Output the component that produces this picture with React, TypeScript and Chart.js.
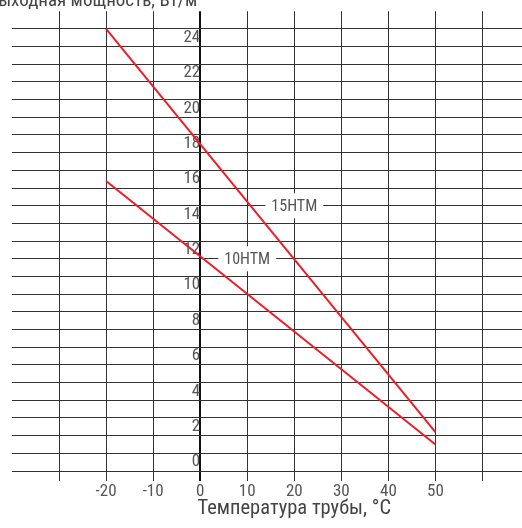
import React, { useEffect, useRef } from 'react';
import { Chart, registerables } from 'chart.js';

Chart.register(...registerables);

// ---- data ----
const temperatures = [-20, 50];
const power15HTM = [25, 2.2];
const power10HTM = [16.4, 1.5];

const xTickValues = [-40, -30, -20, -10, 0, 10, 20, 30, 40, 50, 60];
const xTickLabels = ['', '', '-20', '-10', '0', '10', '20', '30', '40', '50', ''];
const yTickValues = [0, 1, 2, 3, 4, 5, 6, 7, 8, 9, 10, 11, 12, 13, 14, 15, 16, 17, 18, 19, 20, 21, 22, 23, 24, 25, 26];
const yTickLabels = ['0', '', '2', '', '4', '', '6', '', '8', '', '10', '', '12', '', '14', '', '16', '', '18', '', '20', '', '22', '', '24', '', ''];

const curveLabelNames = ['15HTM', '10HTM'];
const curveLabelX = [20, 10];
const curveLabelY = [15, 12];

const yTitle = 'Выходная мощность, Вт/м';
const xTitle = 'Температура трубы, °С';

const FONT = "'Liberation Sans Narrow', 'Roboto Condensed', 'DejaVu Sans Condensed', Roboto, 'Liberation Sans', sans-serif";

const annotate = {
  id: 'annotate',
  beforeDatasetsDraw(chart: any) {
    const { ctx, scales } = chart;
    const x = scales.x;
    const y = scales.y;
    ctx.save();
    ctx.font = `16px ${FONT}`;
    ctx.textAlign = 'center';
    ctx.textBaseline = 'middle';
    curveLabelNames.forEach((name, i) => {
      const px = x.getPixelForValue(curveLabelX[i]);
      const py = y.getPixelForValue(curveLabelY[i]);
      const w = ctx.measureText(name).width + 12;
      ctx.fillStyle = '#ffffff';
      ctx.fillRect(px - w / 2, py - 12.5, w, 25);
      ctx.fillStyle = '#555555';
      ctx.fillText(name, px, py + 1);
    });
    ctx.restore();
  },
  afterDraw(chart: any) {
    const { ctx, scales, chartArea } = chart;
    const x = scales.x;
    ctx.save();
    ctx.fillStyle = '#444444';
    ctx.textBaseline = 'alphabetic';
    ctx.font = `19px ${FONT}`;
    ctx.textAlign = 'right';
    ctx.fillText(yTitle, x.getPixelForValue(0) - 3, chartArea.top - 5);
    ctx.font = `20.5px ${FONT}`;
    ctx.textAlign = 'center';
    ctx.fillText(xTitle, x.getPixelForValue(20), chartArea.bottom + 43);
    ctx.restore();
  },
};

export default function App() {
  const canvasRef = useRef<HTMLCanvasElement | null>(null);

  useEffect(() => {
    if (!canvasRef.current) return;
    const red = '#ee1c25';
    const chart = new Chart(canvasRef.current, {
      type: 'scatter',
      data: {
        datasets: [
          {
            label: '15HTM',
            data: temperatures.map((t, i) => ({ x: t, y: power15HTM[i] })),
            showLine: true,
            borderColor: red,
            backgroundColor: red,
            borderWidth: 2,
            pointRadius: 0,
          },
          {
            label: '10HTM',
            data: temperatures.map((t, i) => ({ x: t, y: power10HTM[i] })),
            showLine: true,
            borderColor: red,
            backgroundColor: red,
            borderWidth: 2,
            pointRadius: 0,
          },
        ],
      },
      options: {
        animation: false,
        responsive: false,
        layout: { padding: { left: 12, right: 0, top: 0, bottom: 24.6 } },
        plugins: {
          legend: { display: false },
          tooltip: { enabled: false },
          title: { display: false },
        },
        scales: {
          x: {
            type: 'linear',
            min: -40,
            max: 68.4,
            afterBuildTicks: (scale: any) => {
              scale.ticks = xTickValues.map((value) => ({ value }));
            },
            border: { display: false },
            grid: {
              color: (c: any) => {
                const v = c.tick?.value;
                if (v === -40) return 'rgba(0,0,0,0)';
                if (v === 0) return '#111111';
                return '#333333';
              },
              lineWidth: (c: any) => (c.tick?.value === 0 ? 2 : 1),
              drawTicks: true,
              tickLength: 10,
            },
            ticks: {
              padding: 1,
              maxRotation: 0,
              autoSkip: false,
              color: '#555555',
              font: { family: FONT, size: 17 },
              callback: (value: any) => xTickLabels[xTickValues.indexOf(Number(value))],
            },
          },
          y: {
            type: 'linear',
            min: 0,
            max: 26,
            position: { x: 0 } as any,
            afterBuildTicks: (scale: any) => {
              scale.ticks = yTickValues.map((value) => ({ value }));
            },
            border: { display: false },
            grid: {
              color: (c: any) => (c.tick?.value === 26 ? 'rgba(0,0,0,0)' : '#333333'),
              lineWidth: 1,
              drawTicks: false,
            },
            ticks: {
              padding: 6,
              labelOffset: -9,
              autoSkip: false,
              color: '#555555',
              font: { family: FONT, size: 17 },
              callback: (value: any) => yTickLabels[yTickValues.indexOf(Number(value))],
            },
          },
        },
      },
      plugins: [annotate],
    });
    return () => chart.destroy();
  }, []);

  return (
    <div style={{ position: 'absolute', left: 0, top: -5, width: 522, height: 533, overflow: 'hidden', background: '#ffffff' }}>
      <canvas ref={canvasRef} width={522} height={533} />
    </div>
  );
}
